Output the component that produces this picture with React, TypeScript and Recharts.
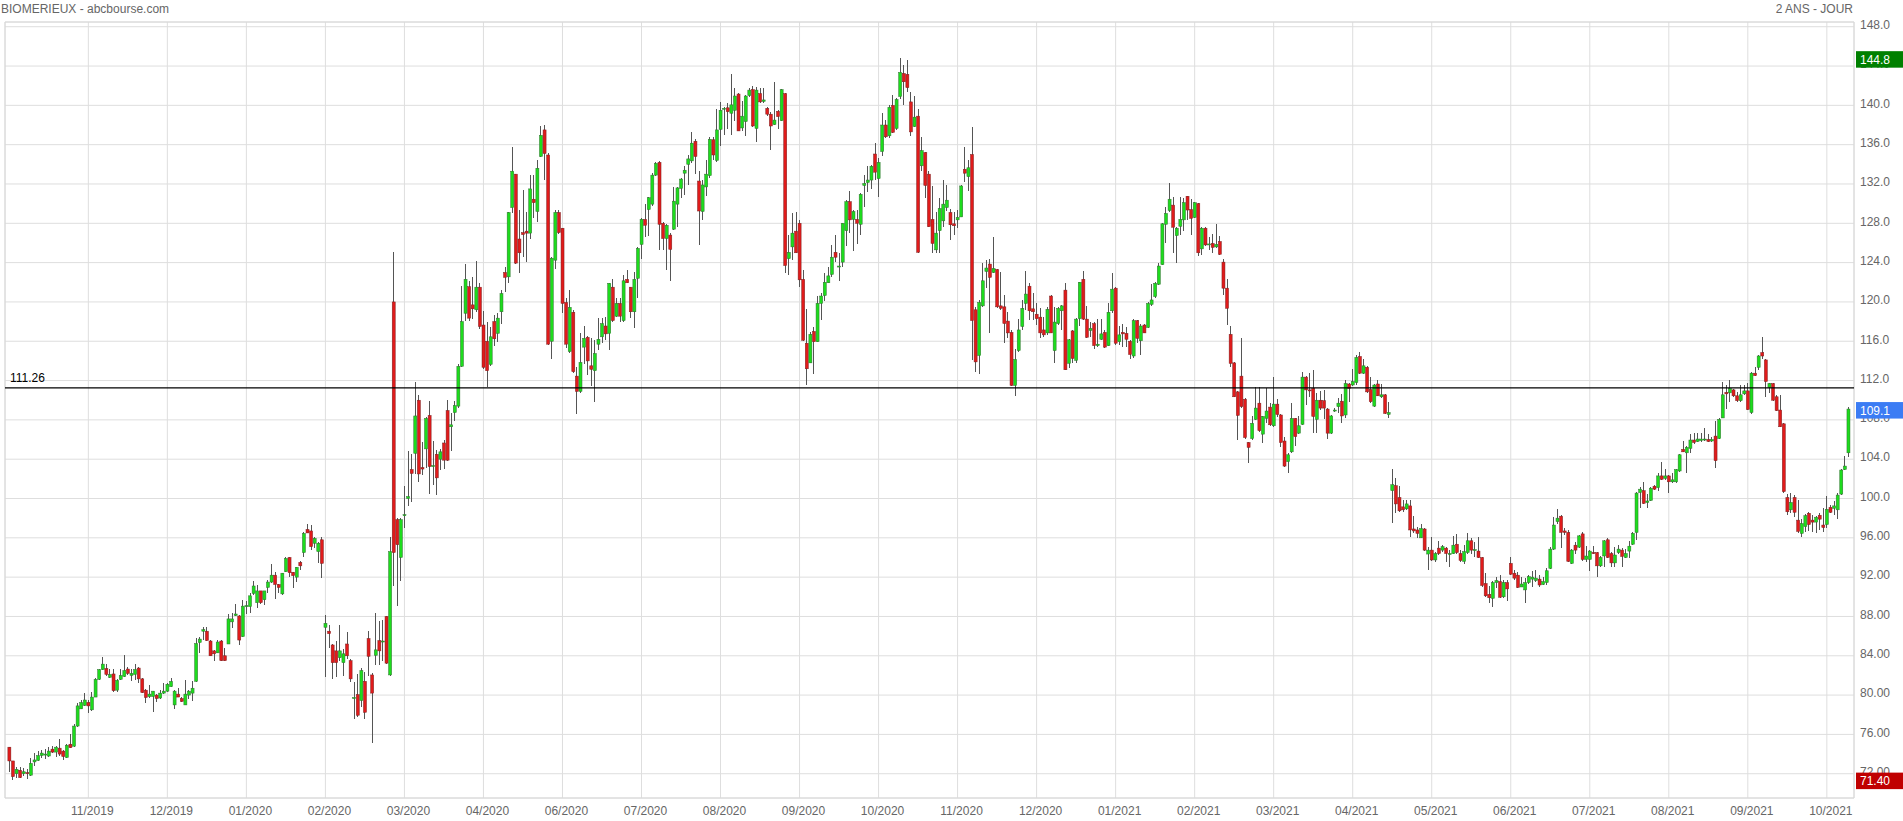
import React from 'react'
import {
  ComposedChart,
  Bar,
  XAxis,
  YAxis,
  CartesianGrid,
  ReferenceLine,
  ReferenceArea,
} from 'recharts'

// one daily candle: open, high, low, close
type Ohlc = [number, number, number, number]

const late2019: Ohlc[] = [
  [74.7, 74.7, 72.2, 73.3], [73.3, 73.3, 71.4, 71.7], [72.0, 72.7, 71.6, 72.45], [72.35, 72.65, 71.55, 71.6],
  [72.0, 72.55, 71.8, 72.2], [72.1, 72.5, 71.5, 72.0], [71.85, 73.6, 71.8, 73.05], [73.2, 74.1, 72.8, 73.4],
  [73.35, 74.3, 73.3, 73.85], [73.85, 74.4, 73.55, 74.1], [74.0, 74.55, 73.5, 74.0], [73.8, 74.75, 73.75, 74.3],
  [74.5, 74.8, 74.15, 74.2], [74.2, 74.8, 73.7, 74.7], [74.6, 75.5, 73.8, 74.0], [74.3, 74.4, 73.4, 73.75],
  [73.65, 75.0, 73.55, 74.9], [75.0, 76.0, 74.65, 74.65], [74.8, 77.05, 74.75, 76.85], [76.85, 79.2, 76.8, 78.9],
  [78.6, 79.55, 78.6, 79.25], [78.95, 80.2, 78.85, 79.5], [79.25, 79.5, 78.2, 78.9], [78.5, 80.35, 78.4, 79.8],
  [79.8, 81.7, 79.8, 81.6], [81.6, 82.7, 81.55, 82.6], [82.6, 83.85, 82.55, 83.15], [82.7, 83.15, 81.9, 82.1],
  [81.8, 82.7, 81.7, 82.1], [82.15, 82.7, 80.35, 80.45], [80.5, 81.6, 80.35, 81.5], [81.6, 82.7, 81.55, 82.0],
  [81.9, 84.05, 81.85, 82.5], [82.65, 82.9, 82.05, 82.2], [82.0, 82.65, 81.4, 82.2], [82.1, 83.15, 81.55, 82.6],
  [82.75, 82.9, 81.2, 81.65], [81.65, 81.7, 80.2, 80.25], [80.5, 80.6, 79.15, 79.75], [79.85, 81.0, 79.75, 80.1],
  [79.85, 80.45, 78.3, 80.4], [80.0, 80.1, 79.25, 79.65], [79.7, 80.55, 79.65, 80.2], [80.2, 81.2, 80.1, 80.4],
  [80.4, 81.25, 80.35, 81.1], [80.85, 81.75, 80.85, 81.4], [79.0, 80.5, 78.6, 80.4], [80.1, 80.7, 79.8, 79.8],
  [79.65, 79.85, 79.25, 79.35], [79.0, 81.5, 78.95, 80.1], [80.0, 80.5, 79.65, 80.4], [80.2, 81.45, 79.35, 80.7],
  [81.4, 85.8, 81.35, 85.25], [85.35, 85.95, 84.3, 85.7], [86.5, 86.95, 85.6, 86.65], [86.5, 86.9, 85.55, 85.55],
  [85.5, 85.6, 84.0, 84.0], [84.5, 84.6, 83.5, 84.2], [84.3, 85.65, 84.25, 85.4], [85.5, 85.6, 83.5, 83.5],
  [84.0, 84.75, 83.5, 83.5], [85.2, 88.25, 85.15, 87.75], [87.45, 88.4, 86.8, 87.75], [88.1, 89.25, 88.0, 88.25],
]

const early2020: Ohlc[] = [
  [88.05, 88.1, 85.05, 85.6], [85.95, 89.7, 85.95, 89.05], [89.0, 89.6, 88.3, 89.1], [89.0, 90.4, 88.4, 90.1],
  [90.35, 91.6, 90.2, 91.1], [89.4, 91.2, 88.9, 90.6], [90.6, 90.6, 89.25, 89.4], [89.7, 90.6, 89.2, 90.6],
  [90.95, 91.7, 90.4, 91.5], [91.5, 93.35, 91.45, 92.2], [92.2, 92.55, 89.8, 91.25], [91.25, 91.35, 90.35, 90.95],
  [90.3, 92.45, 90.2, 92.4], [92.55, 94.0, 92.5, 93.9], [94.0, 94.05, 92.05, 92.45], [92.5, 92.55, 90.85, 92.15],
  [92.0, 93.05, 91.55, 93.0], [93.5, 93.6, 92.75, 93.15], [94.5, 96.6, 94.1, 96.45], [96.85, 97.4, 96.45, 96.5],
  [96.7, 97.3, 94.75, 95.1], [95.45, 96.1, 94.95, 95.95], [94.6, 95.6, 93.4, 95.45], [95.8, 96.05, 91.9, 93.4],
  [86.9, 88.1, 81.8, 87.3], [86.5, 87.1, 84.75, 86.25], [85.1, 85.2, 81.6, 83.3], [84.5, 85.55, 81.85, 83.3],
  [83.8, 87.1, 83.45, 84.5], [83.3, 84.7, 81.95, 84.2], [85.2, 86.45, 83.65, 84.0], [83.5, 83.65, 81.35, 81.65],
  [79.7, 81.35, 77.6, 79.75], [80.05, 82.15, 77.75, 77.95], [79.45, 82.8, 78.8, 82.5], [81.4, 82.4, 77.55, 78.25],
  [85.75, 86.5, 81.95, 83.95], [82.05, 82.25, 75.1, 80.2], [84.05, 88.35, 83.1, 84.6], [85.55, 87.55, 83.1, 84.5],
  [85.4, 87.65, 83.45, 85.5], [88.0, 88.05, 83.2, 83.25], [82.05, 96.1, 81.95, 94.6], [120.0, 125.05, 91.1, 94.5],
  [97.85, 98.0, 89.05, 95.3], [94.0, 98.0, 91.65, 97.85], [98.3, 101.3, 96.95, 98.35], [100.0, 104.8, 99.25, 100.2],
  [102.95, 104.5, 99.65, 102.55], [104.6, 111.85, 102.5, 108.4], [110.0, 110.5, 101.65, 102.5], [103.15, 105.8, 102.35, 103.0],
  [105.05, 108.25, 103.15, 108.15], [108.45, 109.9, 100.5, 103.25], [103.3, 105.9, 101.35, 103.35], [104.5, 104.95, 100.4, 102.1],
  [104.0, 105.05, 102.85, 104.75], [105.65, 106.0, 103.05, 103.9], [108.95, 110.0, 103.85, 103.9], [107.3, 108.75, 104.85, 107.5],
  [108.75, 109.9, 107.9, 109.45], [109.4, 113.7, 109.25, 113.45], [113.45, 121.6, 113.4, 118.0], [118.85, 123.9, 118.1, 122.3],
]

const spring2020: Ohlc[] = [
  [121.55, 122.15, 118.1, 118.35], [119.7, 122.55, 118.25, 119.3], [119.2, 124.15, 118.95, 121.5], [121.5, 121.9, 117.2, 117.5],
  [117.65, 119.05, 113.15, 113.35], [116.0, 118.0, 111.35, 113.0], [113.65, 117.5, 113.45, 116.45], [118.0, 118.65, 115.5, 116.25],
  [116.8, 118.85, 115.9, 118.35], [119.0, 121.2, 117.8, 120.85], [123.0, 123.6, 121.05, 122.5], [122.55, 129.2, 121.95, 129.1],
  [129.6, 135.75, 129.0, 133.3], [133.0, 133.0, 123.85, 123.95], [126.4, 129.35, 122.9, 125.0], [127.05, 131.4, 124.6, 126.85],
  [127.2, 129.2, 124.1, 127.0], [127.0, 132.9, 126.45, 131.5], [130.45, 132.9, 128.5, 130.1], [129.2, 134.45, 128.15, 133.6],
  [134.8, 137.85, 134.7, 136.95], [137.5, 138.0, 132.4, 135.1], [134.95, 135.2, 115.6, 115.7], [116.0, 124.55, 114.15, 124.45],
  [124.25, 129.4, 123.4, 129.1], [129.1, 129.4, 126.95, 127.05], [127.5, 127.55, 118.85, 119.85], [119.95, 120.35, 115.3, 115.7],
  [114.95, 121.2, 114.85, 119.45], [118.95, 119.2, 112.75, 112.9], [112.45, 113.4, 108.55, 110.9], [110.9, 116.85, 110.7, 113.85],
  [115.4, 117.55, 113.7, 116.3], [116.4, 116.55, 112.55, 114.0], [113.5, 116.3, 111.4, 113.15], [113.0, 116.15, 109.85, 114.75],
  [115.7, 118.35, 115.1, 116.2], [116.45, 118.35, 115.8, 117.8], [117.55, 118.45, 116.1, 116.75], [116.8, 121.95, 115.1, 121.9],
  [121.5, 122.3, 118.0, 118.1], [118.55, 120.45, 118.5, 119.85], [119.85, 120.45, 118.0, 118.55], [118.1, 122.75, 118.0, 122.15],
  [122.3, 123.25, 121.9, 121.95], [121.5, 121.55, 118.35, 119.0], [119.0, 123.0, 117.3, 122.3], [122.4, 125.6, 120.35, 125.45],
  [125.85, 128.5, 124.35, 128.4], [128.4, 129.95, 126.65, 127.8], [129.4, 130.7, 126.7, 130.6], [129.95, 133.1, 129.75, 132.9],
  [132.9, 134.25, 132.8, 134.1], [134.2, 134.35, 125.3, 127.9], [128.0, 128.15, 125.3, 126.45], [126.45, 127.95, 123.25, 127.8],
  [126.8, 127.0, 122.15, 125.35], [127.4, 131.7, 127.3, 130.25], [129.95, 131.7, 127.65, 131.6], [131.55, 132.6, 130.55, 132.5],
  [133.1, 133.85, 130.9, 133.4], [134.0, 134.95, 131.9, 134.55], [134.35, 137.3, 134.1, 136.15], [136.35, 136.55, 133.0, 134.8],
]

const summer2020: Ohlc[] = [
  [132.3, 133.3, 125.8, 129.25], [129.2, 132.4, 128.35, 131.9], [131.7, 134.45, 130.8, 133.0], [132.85, 136.75, 132.65, 136.55],
  [136.5, 136.75, 134.45, 134.95], [134.4, 139.6, 134.25, 137.5], [137.55, 140.35, 135.85, 139.5], [139.65, 139.85, 137.0, 139.7],
  [139.75, 140.2, 137.55, 139.35], [139.2, 143.2, 137.0, 140.05], [139.5, 141.8, 138.45, 140.95], [141.15, 141.3, 137.4, 137.4],
  [137.7, 140.45, 137.4, 138.9], [138.35, 141.05, 136.9, 140.95], [141.0, 141.75, 140.85, 141.55], [141.6, 141.95, 137.8, 137.9],
  [137.65, 141.9, 136.3, 141.55], [141.2, 141.75, 140.25, 140.35], [140.4, 141.75, 140.25, 140.55], [139.7, 139.85, 138.9, 139.1],
  [139.1, 139.35, 135.45, 137.9], [138.05, 142.4, 138.0, 138.5], [139.4, 139.5, 137.55, 138.85], [138.45, 141.7, 138.4, 141.6],
  [141.2, 141.3, 122.9, 123.7], [124.4, 126.8, 122.75, 125.05], [125.6, 129.0, 124.25, 127.0], [127.2, 129.1, 124.95, 125.0],
  [128.0, 128.35, 121.5, 122.25], [122.3, 123.2, 116.05, 116.1], [115.8, 119.25, 111.5, 113.2], [113.8, 116.9, 113.75, 116.7],
  [117.0, 117.4, 112.65, 115.95], [115.95, 120.6, 115.9, 119.85], [119.85, 120.9, 118.15, 120.6], [120.65, 122.9, 120.05, 122.0],
  [121.95, 123.6, 121.9, 122.65], [122.8, 125.8, 122.55, 124.55], [125.05, 126.8, 124.1, 124.55], [123.6, 124.95, 122.15, 123.65],
  [124.05, 128.05, 123.6, 128.0], [127.25, 130.35, 125.7, 130.2], [130.2, 131.3, 127.0, 128.35], [128.4, 129.35, 125.2, 129.2],
  [128.4, 129.35, 125.9, 128.0], [127.9, 131.05, 126.8, 130.95], [131.85, 132.9, 129.7, 132.05], [132.15, 133.85, 131.2, 132.4],
  [132.4, 133.95, 131.45, 133.8], [135.05, 136.2, 132.4, 133.2], [132.55, 134.6, 130.7, 134.2], [135.3, 139.25, 134.85, 138.0],
  [138.0, 138.5, 136.65, 136.8], [136.9, 140.05, 136.7, 139.8], [140.0, 141.05, 137.15, 137.25], [137.65, 140.7, 137.5, 140.6],
  [140.9, 144.8, 140.6, 143.35], [143.25, 144.1, 140.05, 142.4], [143.15, 144.6, 141.4, 141.8], [140.35, 141.4, 136.9, 137.3],
  [137.85, 140.95, 137.75, 138.8], [138.9, 139.6, 125.0, 125.05], [133.85, 136.75, 133.3, 135.4], [135.2, 135.3, 130.6, 131.85],
]

const autumn2020: Ohlc[] = [
  [133.0, 133.3, 127.6, 127.65], [128.4, 131.8, 125.0, 125.95], [125.3, 129.2, 125.0, 127.0], [127.25, 130.55, 125.0, 129.5],
  [128.25, 132.4, 127.65, 129.95], [129.6, 131.9, 129.3, 130.35], [129.1, 129.5, 126.3, 127.85], [127.95, 129.2, 126.8, 127.75],
  [128.35, 129.35, 127.5, 128.6], [128.65, 131.85, 128.6, 131.8], [133.5, 135.8, 132.25, 133.1], [132.75, 134.45, 131.3, 133.65],
  [135.0, 137.75, 114.1, 118.1], [119.2, 119.5, 112.9, 113.9], [114.55, 120.2, 112.65, 119.95], [119.6, 123.95, 119.5, 122.15],
  [123.1, 124.25, 121.4, 123.45], [123.85, 124.35, 116.85, 122.5], [123.0, 126.65, 122.9, 123.4], [123.3, 123.4, 119.4, 119.5],
  [119.6, 123.0, 119.2, 119.35], [119.5, 120.7, 115.85, 117.8], [118.05, 119.0, 116.35, 116.85], [116.9, 117.15, 111.45, 111.5],
  [111.5, 115.2, 110.45, 114.15], [115.05, 118.25, 114.95, 117.15], [117.5, 120.15, 117.15, 119.35], [119.85, 123.1, 119.2, 120.8],
  [121.6, 121.9, 118.15, 119.1], [119.3, 120.9, 118.15, 119.0], [118.75, 119.85, 117.65, 118.3], [118.45, 119.35, 116.3, 116.85],
  [117.15, 118.5, 116.45, 116.65], [116.85, 119.5, 116.6, 119.25], [120.6, 120.7, 116.8, 116.85], [115.05, 119.5, 113.8, 117.95],
  [117.8, 119.45, 117.65, 119.35], [119.1, 119.7, 117.15, 119.6], [121.2, 121.9, 113.05, 113.1], [113.75, 116.25, 113.25, 116.15],
  [117.05, 117.15, 113.8, 114.25], [114.05, 118.35, 113.8, 118.25], [118.3, 122.05, 117.55, 122.0], [122.3, 123.1, 118.15, 118.25],
  [118.25, 119.6, 116.3, 116.4], [117.1, 118.0, 116.45, 117.3], [117.8, 118.0, 115.2, 115.55], [115.55, 118.25, 115.45, 115.7],
  [116.2, 118.25, 116.1, 116.75], [116.9, 117.15, 115.3, 115.4], [115.55, 119.85, 115.5, 118.95], [119.1, 122.9, 118.85, 121.3],
  [121.4, 121.5, 115.6, 115.8], [115.95, 117.55, 115.6, 116.65], [116.9, 117.75, 115.45, 116.75], [116.8, 117.5, 115.45, 116.2],
  [116.0, 116.15, 114.15, 114.65], [114.5, 118.25, 114.25, 118.1], [118.1, 118.15, 115.8, 116.3], [116.05, 117.75, 114.6, 117.55],
  [117.65, 117.75, 116.8, 116.85], [117.4, 119.95, 117.3, 119.85], [119.75, 121.8, 119.6, 120.2], [120.55, 122.05, 120.35, 121.9],
]

const winter2021: Ohlc[] = [
  [121.8, 124.0, 121.7, 123.65], [123.8, 128.0, 123.75, 127.95], [127.9, 129.7, 125.95, 129.0], [129.3, 132.05, 129.2, 130.45],
  [129.85, 130.65, 124.95, 127.6], [126.75, 127.65, 124.0, 127.5], [127.7, 130.7, 126.8, 128.4], [128.35, 130.55, 127.25, 130.1],
  [130.75, 130.8, 128.35, 129.35], [129.4, 130.45, 126.8, 128.5], [128.6, 130.2, 128.5, 130.1], [130.0, 130.05, 124.65, 125.0],
  [125.4, 127.6, 124.75, 127.5], [127.5, 127.6, 125.7, 125.8], [125.85, 126.65, 125.3, 125.9], [125.95, 126.9, 124.95, 125.55],
  [125.6, 127.95, 125.45, 125.85], [126.15, 126.7, 124.75, 124.85], [124.05, 124.35, 120.7, 121.4], [121.4, 122.3, 117.65, 119.35],
  [116.7, 117.55, 113.4, 113.75], [113.8, 113.9, 110.3, 110.35], [110.85, 110.95, 106.0, 108.45], [112.45, 116.3, 109.25, 109.35],
  [110.1, 110.2, 106.1, 106.2], [105.7, 105.8, 103.6, 105.2], [106.1, 108.35, 106.0, 107.65], [108.05, 111.3, 108.0, 109.2],
  [109.7, 111.3, 106.8, 106.9], [106.55, 108.4, 105.6, 108.35], [108.15, 111.2, 107.65, 108.9], [109.3, 109.75, 107.35, 107.5],
  [107.4, 112.35, 107.3, 109.6], [109.6, 110.1, 108.25, 108.55], [108.5, 108.55, 105.25, 105.7], [105.85, 106.3, 103.25, 103.3],
  [103.75, 104.6, 102.55, 104.45], [104.75, 109.7, 104.65, 108.15], [108.15, 108.2, 105.35, 106.3], [106.65, 108.35, 106.6, 107.4],
  [107.55, 112.9, 107.45, 112.35], [112.35, 112.45, 109.5, 111.05], [111.05, 112.75, 110.3, 111.0], [111.2, 113.05, 106.7, 108.35],
  [108.05, 110.7, 106.7, 110.0], [110.0, 110.95, 109.05, 109.2], [109.95, 111.05, 108.05, 109.2], [109.1, 109.2, 106.1, 106.65],
  [106.65, 108.5, 106.55, 108.4], [108.9, 109.2, 108.85, 109.0], [109.35, 110.2, 108.65, 109.7], [109.9, 110.65, 107.65, 108.4],
  [108.5, 112.1, 108.15, 111.7], [111.65, 111.75, 109.85, 111.2], [111.55, 113.15, 111.45, 111.9], [111.8, 114.6, 111.55, 114.35],
  [114.45, 114.95, 112.65, 112.75], [112.75, 114.15, 112.65, 113.5], [113.35, 113.45, 110.75, 110.85], [111.1, 112.35, 109.75, 109.85],
  [109.4, 111.7, 109.3, 111.55], [111.65, 112.1, 110.4, 110.45], [110.35, 111.7, 110.2, 110.55], [110.55, 110.65, 108.6, 108.65],
  [108.55, 109.85, 108.15, 108.75],
]

const spring2021: Ohlc[] = [
  [100.8, 103.05, 97.55, 101.4], [101.3, 102.1, 98.5, 99.45], [100.1, 101.25, 98.65, 98.75], [99.15, 99.85, 98.65, 98.85],
  [98.95, 99.85, 98.85, 99.45], [99.25, 99.8, 96.1, 96.8], [96.9, 98.25, 96.45, 96.7], [96.8, 97.15, 95.95, 96.45],
  [96.0, 97.4, 95.95, 96.95], [96.9, 97.0, 94.7, 94.75], [94.35, 95.1, 92.75, 94.75], [94.75, 96.1, 93.65, 93.75],
  [93.75, 94.6, 93.55, 94.4], [94.95, 95.7, 94.25, 94.4], [94.75, 95.25, 94.6, 95.1], [94.95, 95.1, 93.55, 94.4],
  [94.35, 94.75, 93.05, 94.4], [94.4, 96.2, 94.35, 95.25], [95.35, 96.4, 94.4, 94.5], [94.4, 94.75, 93.55, 93.7],
  [93.6, 95.25, 93.35, 94.6], [94.5, 96.45, 94.4, 95.7], [95.7, 95.95, 94.4, 94.75], [94.75, 95.6, 94.1, 94.8],
  [94.65, 96.05, 93.9, 94.0], [94.0, 94.1, 90.95, 91.15], [91.35, 92.4, 90.0, 90.1], [90.25, 91.1, 89.35, 89.9],
  [89.85, 91.6, 89.0, 91.45], [91.45, 92.05, 90.85, 91.65], [91.55, 92.2, 89.85, 89.95], [90.0, 91.7, 89.85, 91.45],
  [91.45, 91.7, 89.6, 90.8], [93.4, 94.1, 92.2, 92.3], [92.4, 92.75, 91.7, 91.9], [92.2, 92.55, 90.85, 90.95],
  [91.0, 92.05, 90.95, 91.3], [90.7, 91.9, 89.35, 91.45], [91.45, 92.2, 91.35, 92.05], [91.8, 92.6, 90.95, 92.0],
  [91.65, 92.75, 91.55, 91.9], [91.8, 92.2, 91.0, 91.2], [91.25, 92.05, 91.2, 91.55], [91.45, 92.9, 91.2, 92.65],
  [92.9, 95.1, 92.8, 94.85], [94.85, 98.15, 94.8, 97.3], [97.65, 98.9, 97.45, 98.0], [98.2, 98.3, 94.95, 96.55],
  [96.7, 96.95, 96.3, 96.55], [96.55, 96.8, 93.5, 93.6], [93.4, 94.85, 93.35, 94.75], [95.25, 95.6, 94.4, 94.75],
  [95.05, 96.3, 94.95, 96.2], [96.4, 96.6, 93.65, 93.8], [93.8, 95.15, 93.55, 94.15], [93.8, 94.75, 92.65, 94.65],
  [94.5, 95.15, 94.35, 94.45], [94.5, 94.6, 92.0, 93.15], [93.15, 94.15, 93.05, 94.0], [94.15, 95.8, 93.05, 95.7],
  [95.8, 95.95, 93.9, 94.0], [94.4, 94.6, 93.0, 93.45], [93.45, 95.1, 93.0, 94.25], [94.5, 95.25, 94.35, 94.85],
]

const summer2021: Ohlc[] = [
  [94.75, 94.95, 93.05, 94.1], [94.0, 94.85, 93.9, 94.4], [94.65, 95.7, 93.9, 95.15], [95.35, 96.6, 95.25, 96.45],
  [96.55, 100.7, 95.8, 100.55], [100.6, 101.2, 99.0, 100.95], [100.8, 101.7, 99.45, 99.5], [99.6, 100.45, 99.0, 99.75],
  [99.8, 101.2, 99.7, 101.05], [101.25, 101.35, 100.85, 100.95], [101.1, 102.55, 100.8, 102.3], [102.3, 103.75, 101.85, 101.95],
  [102.05, 103.05, 101.85, 102.3], [102.3, 102.4, 100.6, 101.7], [101.7, 102.55, 101.6, 101.9], [101.7, 103.05, 101.6, 102.95],
  [102.8, 104.5, 102.7, 104.45], [105.0, 105.9, 104.75, 104.75], [104.65, 105.3, 102.55, 105.2], [105.1, 106.55, 104.6, 105.95],
  [105.95, 106.65, 105.55, 105.7], [105.8, 106.7, 105.7, 106.05], [105.9, 106.65, 105.7, 106.05], [106.05, 107.15, 105.85, 106.05],
  [106.0, 106.55, 105.7, 105.8], [105.85, 106.3, 105.7, 106.0], [106.35, 107.9, 103.15, 103.85], [106.1, 108.15, 106.05, 108.05],
  [108.2, 111.9, 108.15, 110.55], [110.8, 111.55, 109.15, 110.65], [110.75, 112.05, 109.85, 111.2], [111.05, 111.1, 110.3, 110.45],
  [110.45, 110.85, 109.85, 109.95], [109.95, 111.55, 109.85, 110.55], [110.65, 111.55, 110.5, 110.95], [110.95, 111.8, 109.0, 109.05],
  [108.75, 112.85, 108.6, 112.75], [112.75, 113.4, 112.45, 112.5], [113.35, 114.6, 113.05, 114.5], [114.85, 116.45, 114.15, 114.5],
  [114.1, 114.15, 110.35, 111.9], [111.3, 111.8, 110.75, 111.7], [111.7, 111.8, 109.95, 110.0], [110.35, 110.5, 108.9, 108.95],
  [109.0, 110.55, 107.25, 107.3], [107.6, 107.65, 100.6, 100.7], [100.1, 100.45, 98.3, 98.65], [98.85, 100.55, 98.5, 99.6],
  [100.1, 100.35, 98.15, 98.6], [97.8, 99.85, 96.45, 96.65], [96.45, 97.9, 96.05, 97.45], [97.15, 98.4, 96.6, 98.25],
  [98.5, 98.6, 96.7, 97.35], [97.8, 98.3, 96.6, 97.6], [97.6, 98.2, 96.45, 98.1], [98.3, 98.5, 96.8, 97.9],
  [97.3, 99.05, 96.55, 97.05], [97.35, 100.25, 97.05, 98.9], [99.1, 99.35, 98.5, 98.6], [99.0, 99.75, 98.3, 99.25],
  [98.85, 100.55, 97.9, 100.35], [100.45, 103.0, 100.35, 102.9], [102.95, 104.35, 102.9, 103.3], [104.65, 109.3, 104.2, 109.1],
]

// gridline labels, one every 22 trading days
const monthLabels = [
  '11/2019', '12/2019', '01/2020', '02/2020', '03/2020', '04/2020', '06/2020', '07/2020',
  '08/2020', '09/2020', '10/2020', '11/2020', '12/2020', '01/2021', '02/2021', '03/2021',
  '04/2021', '05/2021', '06/2021', '07/2021', '08/2021', '09/2021', '10/2021',
]
const TICK_STEP = 22

const priceTicks = [72, 76, 80, 84, 88, 92, 96, 100, 104, 108, 112, 116, 120, 124, 128, 132, 136, 140, 144, 148]
const pivotLevel = 111.26

const bars: Ohlc[] = [
  ...late2019, ...early2020, ...spring2020, ...summer2020,
  ...autumn2020, ...winter2021, ...spring2021, ...summer2021,
]

const data = bars.map(([open, high, low, close], i) => ({
  i, open, high, low, close, range: [low, high],
}))

const xTicks = monthLabels.map((_, k) => TICK_STEP * (k + 1))
const lastClose = bars[bars.length - 1][3]
const periodHigh = Math.max(...bars.map((b) => b[1]))
const periodLow = Math.min(...bars.map((b) => b[2]))

const X_DOMAIN: [number, number] = [-1.2, 513.56]
const Y_DOMAIN: [number, number] = [69.53, 148.48]

const FONT = "'Liberation Sans', Arial, Helvetica, sans-serif"
const UP = '#1ddc1d'
const DOWN = '#e01b1b'
const W = 1903
const H = 821
const AXIS_W = 49

const fmt = (v: number) => (v >= 100 ? v.toFixed(1) : v.toFixed(2))

function Candle(props: any) {
  const { x, y, width, height, payload } = props
  if (!payload) return null
  const { open, high, low, close } = payload
  const top = Math.min(y, y + height)
  const span = Math.abs(height)
  const cx = x + width / 2
  const k = high > low ? span / (high - low) : 0
  const toY = (v: number) => top + (high - v) * k
  const up = close >= open
  const bodyTop = toY(Math.max(open, close))
  const bodyH = Math.max(1, Math.abs(close - open) * k)
  return (
    <g>
      <line x1={cx} x2={cx} y1={top} y2={top + span} stroke="#555" strokeWidth={1} shapeRendering="crispEdges" />
      <rect
        x={cx - 1.5}
        y={bodyTop}
        width={3}
        height={bodyH}
        fill={up ? UP : DOWN}
        stroke={up ? '#2f6f2f' : '#7a2020'}
        strokeWidth={0.5}
      />
    </g>
  )
}

const priceTag = (color: string, text: string) => (props: any) => {
  const vb = props.viewBox
  if (!vb) return null
  const x = vb.x + vb.width + 2
  const y = vb.y
  return (
    <g>
      <rect x={x} y={y - 7} width={48} height={16.5} fill={color} />
      <text x={x + 4} y={y + 5.5} fill="#fff" fontSize={12} fontFamily={FONT}>
        {text}
      </text>
    </g>
  )
}

const pivotLabel = (props: any) => {
  const vb = props.viewBox
  if (!vb) return null
  return (
    <text x={vb.x + 5} y={vb.y - 6} fill="#000" fontSize={12} fontFamily={FONT}>
      {pivotLevel.toFixed(2)}
    </text>
  )
}

export default function App() {
  return (
    <div style={{ position: 'absolute', left: 0, top: 0, width: W, height: H, background: '#fff', fontFamily: FONT }}>
      <div style={{ position: 'absolute', left: 1, top: 2, fontSize: 12, lineHeight: '14px', color: '#666' }}>
        BIOMERIEUX - abcbourse.com
      </div>
      <div style={{ position: 'absolute', right: 50, top: 2, fontSize: 12, lineHeight: '14px', color: '#666' }}>
        2 ANS - JOUR
      </div>
      <div style={{ position: 'absolute', left: 0, top: 0 }}>
        <ComposedChart width={W} height={H} data={data} margin={{ top: 22, right: 0, bottom: 0, left: 5 }}>
          <CartesianGrid stroke="#dedede" />
          <ReferenceArea x1={X_DOMAIN[0]} x2={X_DOMAIN[1]} y1={Y_DOMAIN[0]} y2={Y_DOMAIN[1]} fill="none" stroke="#d8d8d8" />
          <XAxis
            dataKey="i"
            type="number"
            domain={X_DOMAIN}
            allowDataOverflow
            ticks={xTicks}
            interval={0}
            tickFormatter={(v: number) => monthLabels[Math.round(v / TICK_STEP) - 1] ?? ''}
            height={23}
            tickSize={0}
            tickMargin={8}
            axisLine={false}
            tickLine={false}
            tick={{ fill: '#666', fontSize: 12, fontFamily: FONT, dx: 4 }}
          />
          <YAxis
            orientation="right"
            type="number"
            domain={Y_DOMAIN}
            allowDataOverflow
            ticks={priceTicks}
            interval={0}
            tickFormatter={fmt}
            width={AXIS_W}
            tickSize={0}
            tickMargin={6}
            axisLine={false}
            tickLine={false}
            tick={{ fill: '#666', fontSize: 12, fontFamily: FONT, dy: -2 }}
          />
          <Bar dataKey="range" shape={<Candle />} isAnimationActive={false} />
          <ReferenceLine y={pivotLevel} stroke="#000" strokeWidth={1.2} label={pivotLabel} />
        </ComposedChart>
      </div>
      {/* price tags sit on top of the axis labels, as in the original */}
      <div style={{ position: 'absolute', left: 0, top: 0, pointerEvents: 'none' }}>
        <ComposedChart width={W} height={H} data={data} margin={{ top: 22, right: AXIS_W, bottom: 23, left: 5 }}>
          <XAxis dataKey="i" type="number" domain={X_DOMAIN} allowDataOverflow hide />
          <YAxis type="number" domain={Y_DOMAIN} allowDataOverflow hide />
          <ReferenceLine y={periodHigh} stroke="none" label={priceTag('#008000', fmt(periodHigh))} />
          <ReferenceLine y={lastClose} stroke="none" label={priceTag('#3b7cf4', fmt(lastClose))} />
          <ReferenceLine y={periodLow} stroke="none" label={priceTag('#c00000', fmt(periodLow))} />
        </ComposedChart>
      </div>
    </div>
  )
}
